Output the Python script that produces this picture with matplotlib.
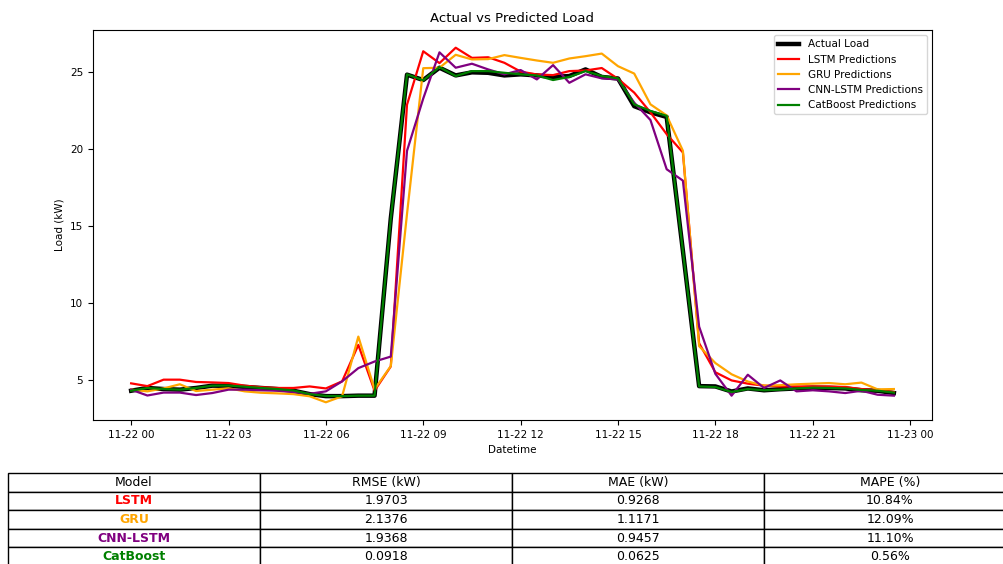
import numpy as np
import pandas as pd
import matplotlib
matplotlib.use('Agg')
import matplotlib.pyplot as plt
import matplotlib.dates as mdates

# half-hourly timestamps for one day
times = pd.date_range('2023-11-22 00:00', periods=48, freq='30min')

actual = [4.30, 4.48, 4.41, 4.37, 4.48, 4.63, 4.62, 4.55, 4.48, 4.41, 4.30, 4.08,
          3.95, 3.95, 3.98, 3.98, 15.5, 24.85, 24.5, 25.3, 24.8, 25.0, 24.97, 24.8,
          24.87, 24.8, 24.7, 24.76, 25.19, 24.7, 24.6, 22.8, 22.4, 22.1, 13.4, 4.6,
          4.58, 4.25, 4.45, 4.33, 4.40, 4.45, 4.50, 4.48, 4.45, 4.33, 4.30, 4.15]

lstm = [4.78, 4.60, 5.02, 5.02, 4.87, 4.84, 4.80, 4.63, 4.53, 4.48, 4.48, 4.58,
        4.45, 4.91, 7.28, 4.30, 5.88, 22.9, 26.37, 25.6, 26.6, 25.94, 25.98, 25.62,
        25.05, 24.86, 24.82, 25.08, 25.12, 25.28, 24.58, 23.68, 22.4, 20.98, 19.79, 7.39,
        5.50, 4.97, 4.76, 4.63, 4.58, 4.58, 4.58, 4.58, 4.54, 4.41, 4.33, 4.22]

gru = [4.37, 4.26, 4.45, 4.72, 4.28, 4.37, 4.46, 4.26, 4.17, 4.13, 4.08, 3.94,
       3.55, 3.94, 7.82, 4.40, 5.90, 15.8, 25.27, 25.3, 26.14, 25.84, 25.86, 26.12,
       25.94, 25.77, 25.62, 25.9, 26.05, 26.22, 25.4, 24.92, 22.92, 22.2, 19.9, 7.2,
       6.10, 5.37, 4.90, 4.63, 4.66, 4.72, 4.76, 4.80, 4.72, 4.83, 4.39, 4.41]

cnn_lstm = [4.37, 3.99, 4.18, 4.18, 4.02, 4.15, 4.37, 4.37, 4.33, 4.30, 4.22, 4.10,
            4.26, 4.91, 5.77, 6.20, 6.52, 19.9, 23.3, 26.3, 25.3, 25.56, 25.19, 24.87,
            25.15, 24.54, 25.47, 24.32, 24.87, 24.61, 24.54, 23.03, 21.9, 18.7, 17.96, 8.47,
            5.40, 3.98, 5.34, 4.48, 4.97, 4.26, 4.33, 4.26, 4.15, 4.30, 4.04, 3.98]

catboost = [4.30, 4.48, 4.41, 4.37, 4.48, 4.63, 4.64, 4.56, 4.48, 4.41, 4.32, 4.08,
            3.96, 3.95, 3.98, 3.98, 15.5, 24.87, 24.48, 25.34, 24.76, 25.08, 25.08, 24.97,
            24.87, 24.8, 24.5, 24.7, 25.08, 24.76, 24.61, 22.92, 22.49, 22.17, 13.4, 4.58,
            4.54, 4.22, 4.41, 4.33, 4.37, 4.45, 4.50, 4.48, 4.45, 4.35, 4.30, 4.18]

models = ['LSTM', 'GRU', 'CNN-LSTM', 'CatBoost']
model_colors = ['red', 'orange', 'purple', 'green']
rmse = ['1.9703', '2.1376', '1.9368', '0.0918']
mae = ['0.9268', '1.1171', '0.9457', '0.0625']
mape = ['10.84%', '12.09%', '11.10%', '0.56%']
headers = ['Model', 'RMSE (kW)', 'MAE (kW)', 'MAPE (%)']

fig = plt.figure(figsize=(10.04, 5.64), dpi=100)
ax = fig.add_axes([93/1004, 144/564, 839/1004, 390/564])

ax.plot(times, actual, color='black', lw=3.2, label='Actual Load')
ax.plot(times, lstm, color='red', lw=1.6, label='LSTM Predictions')
ax.plot(times, gru, color='orange', lw=1.6, label='GRU Predictions')
ax.plot(times, cnn_lstm, color='purple', lw=1.6, label='CNN-LSTM Predictions')
ax.plot(times, catboost, color='green', lw=1.6, label='CatBoost Predictions')

ax.xaxis.set_major_locator(mdates.HourLocator(byhour=range(0, 24, 3)))
ax.xaxis.set_major_formatter(mdates.DateFormatter('%m-%d %H'))
ax.tick_params(labelsize=7.5)
ax.set_title('Actual vs Predicted Load', fontsize=9.5)
ax.set_xlabel('Datetime', fontsize=7.5)
ax.set_ylabel('Load (kW)', fontsize=7.5)
ax.legend(loc='upper right', fontsize=7.5)

# metrics table under the chart
tax = fig.add_axes([8/1004, -2/564, 1008/1004, 93/564])
tax.axis('off')
cells = [[m, r, a, p] for m, r, a, p in zip(models, rmse, mae, mape)]
tbl = tax.table(cellText=cells, colLabels=headers, cellLoc='center', bbox=[0, 0, 1, 1])
tbl.auto_set_font_size(False)
tbl.set_fontsize(9)
for i, c in enumerate(model_colors):
    cell = tbl[i + 1, 0]
    cell.get_text().set_color(c)
    cell.get_text().set_fontweight('bold')

fig.savefig('out.png', dpi=100)
